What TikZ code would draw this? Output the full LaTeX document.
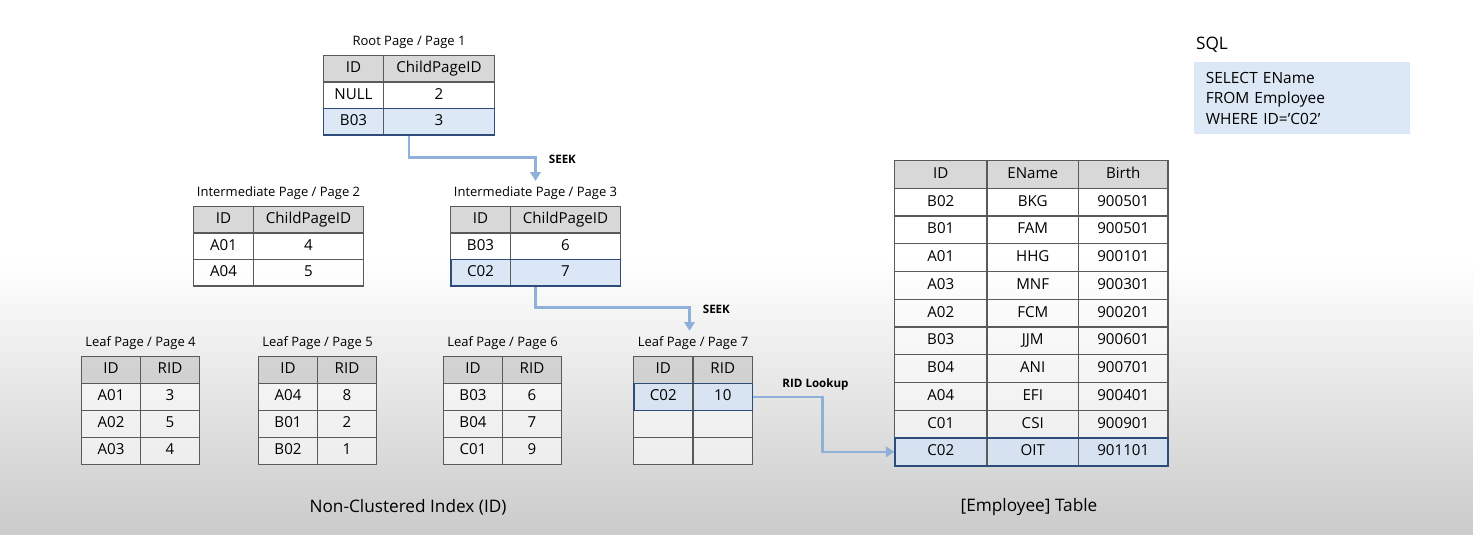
\documentclass[tikz,border=0pt]{standalone}
\usepackage{fontspec}
\setmainfont{Open Sans}
\usetikzlibrary{arrows.meta,positioning,matrix}
\definecolor{cellline}{RGB}{90,90,90}
\definecolor{headgray}{RGB}{200,200,200}
\definecolor{hitblue}{RGB}{214,228,245}
\definecolor{hitedge}{RGB}{47,75,124}
\definecolor{seekblue}{RGB}{143,176,216}
\definecolor{sqlblue}{RGB}{220,232,246}
\definecolor{fadegray}{RGB}{203,203,203}
\tikzset{pagetbl/.style={matrix of nodes,nodes in empty cells,inner sep=0pt,outer sep=0pt,column sep=-0.6pt,row sep=-0.6pt,nodes={draw=cellline,line width=0.6pt,fill=white,fill opacity=0.55,text opacity=1,inner sep=0pt,outer sep=0pt,font=\fontsize{8.6}{10}\selectfont,text height=6.3pt,text depth=1.8pt,minimum height=0.53cm},row 1/.style={nodes={fill=headgray,fill opacity=0.7}}},hit/.style={nodes={fill=hitblue,fill opacity=0.85}},hitframe/.style={draw=hitedge,line width=1.1pt},pagelbl/.style={font=\fontsize{7.4}{8}\selectfont,inner sep=1pt},seek/.style={draw=seekblue,line width=1.2pt,-{Triangle[width=6pt,length=5pt]}},seeklbl/.style={font=\bfseries\fontsize{6.6}{8}\selectfont,inner sep=1pt},title/.style={font=\fontsize{9.8}{11}\selectfont}}

\begin{document}
\begin{tikzpicture}[x=0.02cm,y=-0.02cm]
\useasboundingbox (0,0) rectangle (1473,534);
\fill[white] (0,0) rectangle (1473,260);
\shade[top color=white,bottom color=fadegray] (0,259) rectangle (1473,534);
% index pages
\matrix (p1) [pagetbl,anchor=north west,column 1/.style={nodes={minimum width=1.2cm}},column 2/.style={nodes={minimum width=2.22cm}},row 3/.style={hit}] at (323,55)
{ID & ChildPageID\\ NULL & 2\\ B03 & 3\\};
\matrix (p2) [pagetbl,anchor=north west,column 1/.style={nodes={minimum width=1.2cm}},column 2/.style={nodes={minimum width=2.2cm}}] at (193,206)
{ID & ChildPageID\\ A01 & 4\\ A04 & 5\\};
\matrix (p3) [pagetbl,anchor=north west,column 1/.style={nodes={minimum width=1.2cm}},column 2/.style={nodes={minimum width=2.2cm}},row 3/.style={hit}] at (450,206)
{ID & ChildPageID\\ B03 & 6\\ C02 & 7\\};
\matrix (p4) [pagetbl,anchor=north west,nodes={minimum width=1.18cm,minimum height=0.54cm}] at (81,356)
{ID & RID\\ A01 & 3\\ A02 & 5\\ A03 & 4\\};
\matrix (p5) [pagetbl,anchor=north west,nodes={minimum width=1.18cm,minimum height=0.54cm}] at (258,356)
{ID & RID\\ A04 & 8\\ B01 & 2\\ B02 & 1\\};
\matrix (p6) [pagetbl,anchor=north west,nodes={minimum width=1.18cm,minimum height=0.54cm}] at (443,356)
{ID & RID\\ B03 & 6\\ B04 & 7\\ C01 & 9\\};
\matrix (p7) [pagetbl,anchor=north west,nodes={minimum width=1.19cm,minimum height=0.54cm},row 2/.style={hit}] at (633,356)
{ID & RID\\ C02 & 10\\ & \\ & \\};
% employee table
\matrix (emp) [pagetbl,anchor=north west,nodes={minimum height=0.555cm},column 1/.style={nodes={minimum width=1.85cm}},column 2/.style={nodes={minimum width=1.83cm}},column 3/.style={nodes={minimum width=1.79cm}},row 11/.style={hit}] at (894,160)
{ID & EName & Birth\\
B02 & BKG & 900501\\
B01 & FAM & 900501\\
A01 & HHG & 900101\\
A03 & MNF & 900301\\
A02 & FCM & 900201\\
B03 & JJM & 900601\\
B04 & ANI & 900701\\
A04 & EFI & 900401\\
C01 & CSI & 900901\\
C02 & OIT & 901101\\};
\draw[hitframe] (p1-3-1.north west) rectangle (p1-3-2.south east);
\draw[hitframe] (p3-3-1.north west) rectangle (p3-3-2.south east);
\draw[hitframe] (p7-2-1.north west) rectangle (p7-2-2.south east);
\draw[hitframe] (emp-11-1.north west) rectangle (emp-11-3.south east);
% page labels
\node[pagelbl,above=2.5pt of p1] (l1) {Root Page / Page 1};
\node[pagelbl,above=2.5pt of p2] (l2) {Intermediate Page / Page 2};
\node[pagelbl,above=2.5pt of p3] (l3) {Intermediate Page / Page 3};
\node[pagelbl,above=2.5pt of p4] (l4) {Leaf Page / Page 4};
\node[pagelbl,above=2.5pt of p5] (l5) {Leaf Page / Page 5};
\node[pagelbl,above=2.5pt of p6] (l6) {Leaf Page / Page 6};
\node[pagelbl,above=2.5pt of p7] (l7) {Leaf Page / Page 7};
% sql
\node[fill=sqlblue,anchor=north west,text width=3.86cm,inner xsep=6.5pt,minimum height=1.44cm,align=left,font=\fontsize{8.8}{11.6}\selectfont] (sqlbox) at (1194,62)
{SELECT EName\\FROM Employee\\WHERE ID='C02'};
\node[title,anchor=south west,inner sep=1pt] (sqlhead) at ([yshift=4pt]sqlbox.north west) {SQL};
% seek path
\draw[seek,shorten >=2pt] (p1.south) -- ++(0,22) -| node[seeklbl,pos=0.5,anchor=west,xshift=6pt,yshift=-1pt] (seekA) {SEEK} (l3.north);
\draw[seek,shorten >=2pt] (p3.south) -- ++(0,21) -| node[seeklbl,pos=0.5,anchor=west,xshift=6pt,yshift=-1pt] (seekB) {SEEK} ([xshift=-2pt]l7.north);
\draw[seek] (p7-2-2.east) -- node[seeklbl,pos=0.9,above=2pt] (ridlbl) {RID Lookup} ++(70,0) |- (emp-11-1.west);
% titles
\node[title] (idxtitle) at (408,507) {Non-Clustered Index (ID)};
\node[title] (emptitle) at (1029,507) {[Employee] Table};
\end{tikzpicture}
\end{document}
